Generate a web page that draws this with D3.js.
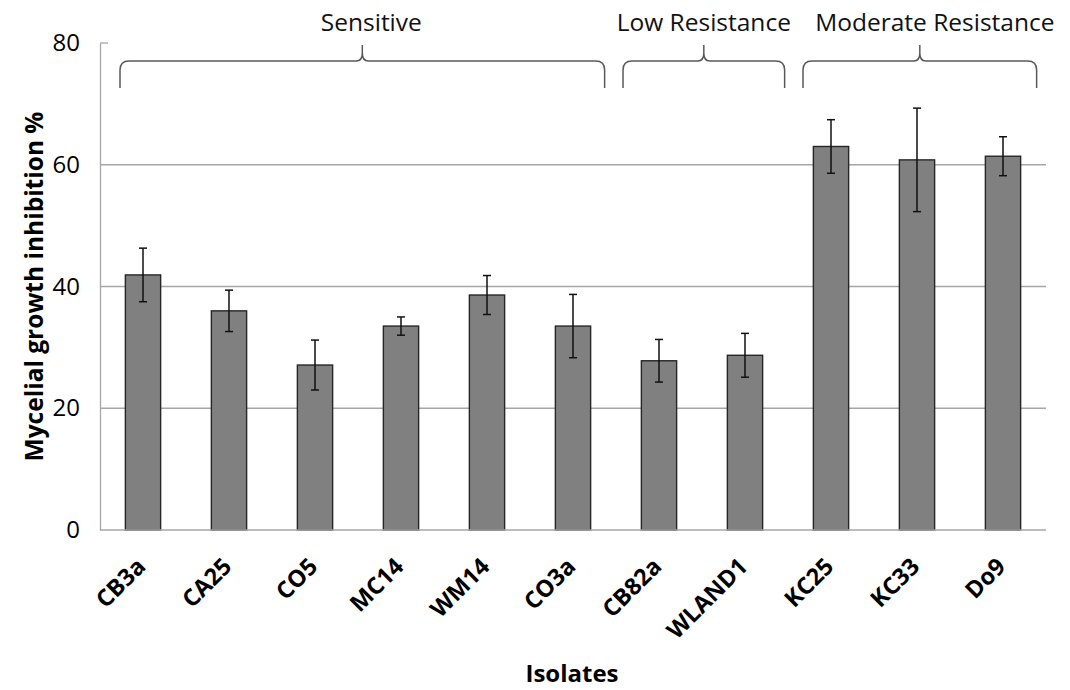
<!DOCTYPE html>
<html><head><meta charset="utf-8">
<script src="https://cdn.jsdelivr.net/npm/d3@7"></script>
<style>body{margin:0;background:#fff}svg{display:block}text{font-family:"Open Sans",sans-serif}</style>
</head><body>
<svg id="c" width="1070" height="690"></svg>
<script>
const categories = ["CB3a","CA25","CO5","MC14","WM14","CO3a","CB82a","WLAND1","KC25","KC33","Do9"];
const values = [41.9, 36.0, 27.1, 33.5, 38.6, 33.5, 27.8, 28.7, 63.0, 60.8, 61.4];
const errors = [4.4, 3.4, 4.1, 1.5, 3.2, 5.2, 3.5, 3.6, 4.4, 8.5, 3.2];
const yTicks = [0, 20, 40, 60, 80];
const groupNames = ["Sensitive", "Low Resistance", "Moderate Resistance"];
const groupFirst = ["CB3a", "CB82a", "KC25"];
const groupLast = ["CO3a", "WLAND1", "Do9"];
const yTitle = "Mycelial growth inhibition %";
const xTitle = "Isolates";

const svg = d3.select("#c");
const L = 100, R = 1046, T = 43, B = 530;
const x = d3.scaleBand().domain(categories).range([L, R]).paddingInner(0.59).paddingOuter(0.295);
const y = d3.scaleLinear().domain([0, 80]).range([B, T]);

// gridlines
svg.append("g").selectAll("line").data(yTicks.filter(t => t > 0 && t < 80)).join("line")
  .attr("x1", L).attr("x2", R).attr("y1", d => y(d)).attr("y2", d => y(d))
  .attr("stroke", "#a6a6a6").attr("stroke-width", 1.3);

// y axis
const yAxis = svg.append("g").attr("transform", `translate(${L},0)`)
  .call(d3.axisLeft(y).tickValues(yTicks).tickSize(0).tickPadding(20));
yAxis.select(".domain").attr("stroke", "#a6a6a6").attr("stroke-width", 1.3);
yAxis.selectAll("text").attr("font-size", 24).attr("fill", "#000");
svg.append("line").attr("x1", L).attr("x2", L + 8).attr("y1", y(80)).attr("y2", y(80))
  .attr("stroke", "#a6a6a6").attr("stroke-width", 1.3);

// bars
svg.append("g").selectAll("rect").data(categories).join("rect")
  .attr("x", d => x(d)).attr("width", x.bandwidth())
  .attr("y", (d, i) => y(values[i])).attr("height", (d, i) => B - y(values[i]))
  .attr("fill", "#808080").attr("stroke", "#262626").attr("stroke-width", 1.4);

// x axis
svg.append("line").attr("x1", L).attr("x2", R).attr("y1", B).attr("y2", B)
  .attr("stroke", "#a6a6a6").attr("stroke-width", 1.5);

// error bars
const eg = svg.append("g").attr("stroke", "#111").attr("stroke-width", 1.5);
categories.forEach((c, i) => {
  const cx = x(c) + x.bandwidth() / 2;
  const y1 = y(values[i] + errors[i]), y2 = y(values[i] - errors[i]);
  eg.append("line").attr("x1", cx).attr("x2", cx).attr("y1", y1).attr("y2", y2);
  eg.append("line").attr("x1", cx - 4).attr("x2", cx + 4).attr("y1", y1).attr("y2", y1);
  eg.append("line").attr("x1", cx - 4).attr("x2", cx + 4).attr("y1", y2).attr("y2", y2);
});

// x labels
const xl = svg.append("g");
categories.forEach(c => {
  const cx = x(c) + x.bandwidth() / 2;
  xl.append("text").attr("transform", `translate(${cx + 4},${B + 38}) rotate(-45)`)
    .attr("text-anchor", "end").attr("font-size", 23.5).attr("font-weight", "bold").text(c);
});

// brackets
const bracketAdj = [[-23, 14], [-36, 22], [-28, 16]];
const labelShift = [9, 0, 15];
const by = 61, bTop = 45, bBottom = 88, rr = 9;
groupNames.forEach((g, i) => {
  const x0 = x(groupFirst[i]) + x.bandwidth() / 2 + bracketAdj[i][0];
  const x1 = x(groupLast[i]) + x.bandwidth() + bracketAdj[i][1];
  const xm = (x0 + x1) / 2;
  const p = d3.path();
  p.moveTo(x0, bBottom); p.lineTo(x0, by + rr);
  p.quadraticCurveTo(x0, by, x0 + rr, by);
  p.lineTo(xm - 6, by);
  p.quadraticCurveTo(xm, by, xm, by - 8);
  p.lineTo(xm, bTop);
  p.moveTo(xm, by - 8);
  p.quadraticCurveTo(xm, by, xm + 6, by);
  p.lineTo(x1 - rr, by);
  p.quadraticCurveTo(x1, by, x1, by + rr);
  p.lineTo(x1, bBottom);
  svg.append("path").attr("d", p.toString()).attr("fill", "none")
    .attr("stroke", "#595959").attr("stroke-width", 1.5);
  svg.append("text").attr("x", xm + labelShift[i]).attr("y", 31).attr("text-anchor", "middle")
    .attr("font-size", 24.5).attr("fill", "#111").text(g);
});

// titles
svg.append("text").attr("transform", `translate(43,${(T + B) / 2}) rotate(-90)`)
  .attr("text-anchor", "middle").attr("font-size", 24.5).attr("font-weight", "bold").text(yTitle);
svg.append("text").attr("x", 572).attr("y", 682).attr("text-anchor", "middle")
  .attr("font-size", 24).attr("font-weight", "bold").text(xTitle);
</script>
</body></html>
